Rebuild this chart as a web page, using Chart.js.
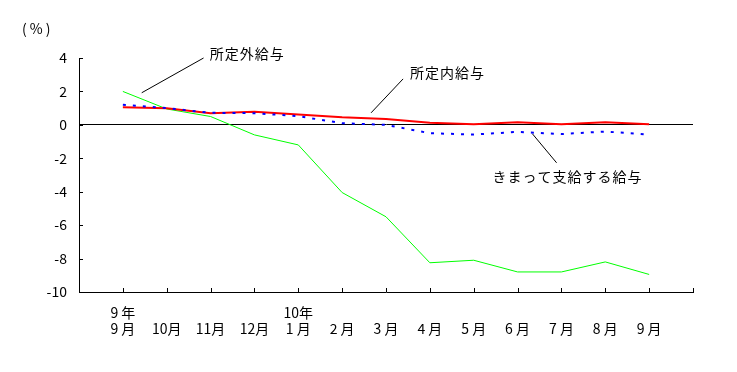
<!DOCTYPE html>
<html><head><meta charset="utf-8">
<script src="https://cdn.jsdelivr.net/npm/chart.js@4/dist/chart.umd.min.js"></script>
<style>html,body{margin:0;padding:0;background:#fff;}canvas{display:block;}</style>
</head><body>
<canvas id="c" width="737" height="372"></canvas>
<script>
const yearLabels  = ['9 年', '', '', '', '10年', '', '', '', '', '', '', '', ''];
const monthLabels = ['9 月', '10月', '11月', '12月', '1 月', '2 月', '3 月', '4 月', '5 月', '6 月', '7 月', '8 月', '9 月'];
const shoteigai = [2.0, 0.95, 0.5, -0.6, -1.2, -4.05, -5.5, -8.25, -8.1, -8.8, -8.8, -8.2, -8.95];
const shoteinai = [1.05, 1.0, 0.7, 0.78, 0.62, 0.45, 0.35, 0.12, 0.03, 0.15, 0.03, 0.15, 0.03];
const kimatte   = [1.2, 1.0, 0.72, 0.7, 0.52, 0.1, 0.0, -0.5, -0.58, -0.42, -0.55, -0.4, -0.58];
const yTicks = [-10, -8, -6, -4, -2, 0, 2, 4];

const notes = [
  {text: '所定外給与', from: [0.43, 1.92], to: [1.84, 4.0], at: [1.98, 4.25]},
  {text: '所定内給与', from: [5.66, 0.72], to: [6.39, 2.75], at: [6.55, 3.11]},
  {text: 'きまって支給する給与', from: [9.34, -0.54], to: [9.89, -2.27], at: [8.43, -3.11]}
];

const FONT = '"Noto Sans CJK JP", "Noto Sans", sans-serif';
const toXY = a => a.map((v, i) => ({x: i, y: v}));

const decor = {
  id: 'decor',
  afterDraw(chart) {
    const ctx = chart.ctx, xs = chart.scales.x, ys = chart.scales.y;
    const ca = chart.chartArea;
    ctx.save();
    ctx.strokeStyle = '#000';
    ctx.lineWidth = 1;
    for (let i = -1; i <= monthLabels.length; i++) {
      const px = Math.round(xs.getPixelForValue(i)) + 0.5;
      ctx.beginPath(); ctx.moveTo(px, ca.bottom); ctx.lineTo(px, ca.bottom - 4); ctx.stroke();
    }
    yTicks.forEach(v => {
      const py = Math.round(ys.getPixelForValue(v)) + 0.5;
      ctx.beginPath(); ctx.moveTo(ca.left, py); ctx.lineTo(ca.left + 4, py); ctx.stroke();
    });
    ctx.font = '14px ' + FONT;
    ctx.fillStyle = '#000';
    ctx.textAlign = 'left';
    ctx.textBaseline = 'middle';
    try { ctx.letterSpacing = '1px'; } catch (e) {}
    notes.forEach(n => {
      ctx.beginPath();
      ctx.moveTo(xs.getPixelForValue(n.from[0]), ys.getPixelForValue(n.from[1]));
      ctx.lineTo(xs.getPixelForValue(n.to[0]), ys.getPixelForValue(n.to[1]));
      ctx.stroke();
      ctx.fillText(n.text, xs.getPixelForValue(n.at[0]), ys.getPixelForValue(n.at[1]));
    });
    try { ctx.letterSpacing = '3px'; } catch (e) {}
    ctx.fillText('(%)', 22, 29);
    ctx.restore();
  }
};

new Chart(document.getElementById('c'), {
  type: 'line',
  data: {
    datasets: [
      {label: 'きまって支給する給与', data: toXY(kimatte), borderColor: '#0000ff', borderWidth: 2, borderDash: [3, 7], borderCapStyle: 'butt', pointRadius: 0, tension: 0, fill: false},
      {label: '所定内給与', data: toXY(shoteinai), borderColor: '#ff0000', borderWidth: 2, pointRadius: 0, tension: 0, fill: false},
      {label: '所定外給与', data: toXY(shoteigai), borderColor: '#00ff00', borderWidth: 1, pointRadius: 0, tension: 0, fill: false}
    ]
  },
  options: {
    responsive: false,
    animation: false,
    devicePixelRatio: 1,
    layout: {padding: {left: 0, top: 58, right: 44, bottom: 0}},
    plugins: {legend: {display: false}, tooltip: {enabled: false}},
    scales: {
      x: {
        type: 'linear', min: -1, max: monthLabels.length,
        afterFit: s => { s.height = 80; },
        afterBuildTicks: s => { s.ticks = []; for (let i = -1; i <= monthLabels.length; i++) s.ticks.push({value: i}); },
        grid: {display: false, drawTicks: false},
        border: {display: true, color: '#000', width: 1},
        ticks: {
          autoSkip: false, maxRotation: 0, padding: 13,
          color: '#000', font: {family: FONT, size: 14, lineHeight: 1.15},
          callback: v => (v >= 0 && v < monthLabels.length) ? [yearLabels[v], monthLabels[v]] : ''
        }
      },
      y: {
        min: -10, max: 4,
        afterFit: s => { s.width = 79; },
        afterBuildTicks: s => { s.ticks = yTicks.map(v => ({value: v})); },
        grid: {drawTicks: false, color: c => c.tick && c.tick.value === 0 ? '#000' : 'rgba(0,0,0,0)', lineWidth: 1},
        border: {display: true, color: '#000', width: 1},
        ticks: {padding: 12, color: '#000', font: {family: FONT, size: 14}}
      }
    }
  },
  plugins: [decor]
});
</script>
</body></html>
